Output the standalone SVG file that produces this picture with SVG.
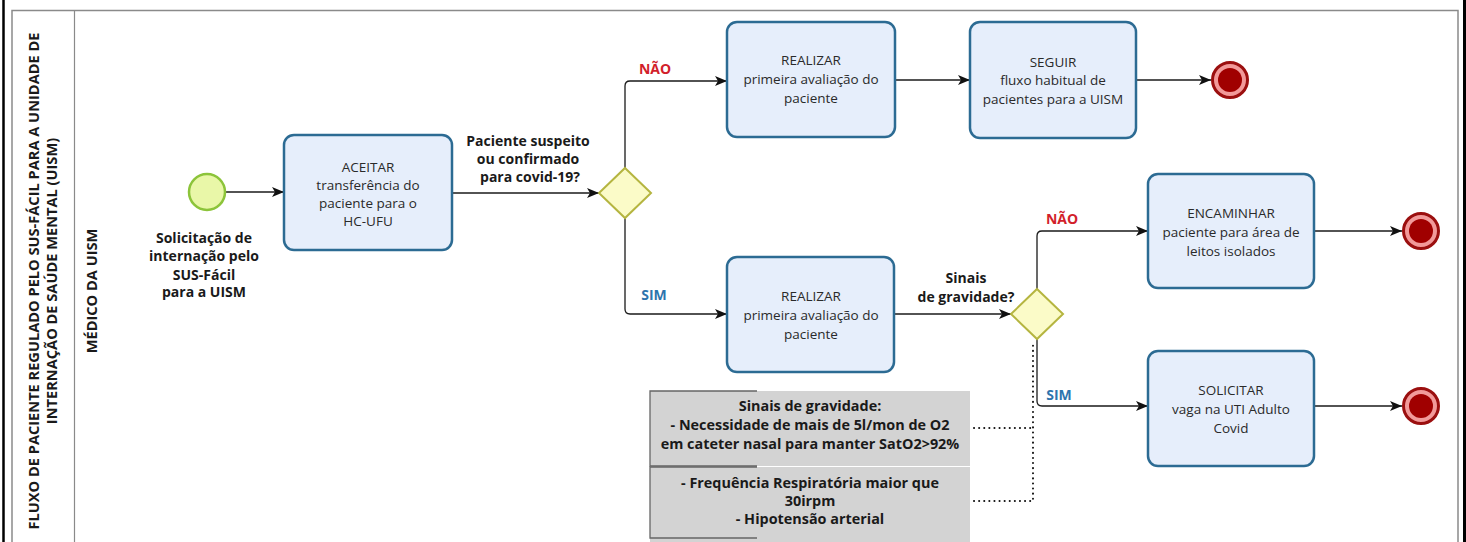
<svg xmlns="http://www.w3.org/2000/svg" width="1466" height="542" viewBox="0 0 1466 542">
<defs>
<marker id="arr" viewBox="0 0 12 10" refX="12" refY="5" markerWidth="12" markerHeight="10" markerUnits="userSpaceOnUse" orient="auto">
<path d="M0,0 L12,5 L0,10 L3,5 Z" fill="#111"/>
</marker>
<style>
.task{fill:#e6eefb;stroke:#2c6b93;stroke-width:2.5}
.tt{font-family:"Open Sans","Noto Sans",sans-serif;font-size:13.5px;fill:#2a2a2a;text-anchor:middle}
.lb{font-family:"Open Sans","Noto Sans",sans-serif;font-size:14px;font-weight:bold;fill:#1a1a1a;text-anchor:middle}
.ttl{font-family:"Open Sans","Noto Sans",sans-serif;font-size:14.6px;font-weight:bold;fill:#1a1a1a;text-anchor:middle}
.an{font-family:"Open Sans","Noto Sans",sans-serif;font-size:14.4px;font-weight:bold;fill:#1a1a1a;text-anchor:middle}
.no{font-family:"Open Sans","Noto Sans",sans-serif;font-size:14px;font-weight:bold;fill:#d21f2b;text-anchor:middle}
.yes{font-family:"Open Sans","Noto Sans",sans-serif;font-size:14px;font-weight:bold;fill:#2e74ad;text-anchor:middle}
.flow{fill:none;stroke:#1a1a1a;stroke-width:1.3;marker-end:url(#arr)}
.assoc{fill:none;stroke:#111;stroke-width:2;stroke-dasharray:0.1 5;stroke-linecap:round}
.gw{fill:#fbfbc8;stroke:#b5b540;stroke-width:2}
.endo{fill:#f29a9a;stroke:#9b0f0f;stroke-width:3}
.endi{fill:#a00000}
</style>
</defs>
<rect width="1466" height="542" fill="#fff"/>
<g id="frame">
<line x1="3.5" y1="0" x2="3.5" y2="542" stroke="#000" stroke-width="2.5"/>
<line x1="1464.5" y1="0" x2="1464.5" y2="542" stroke="#000" stroke-width="3"/>
<rect x="12" y="10.5" width="1446" height="600" fill="none" stroke="#8a8a8a" stroke-width="1.5"/>
<line x1="74.5" y1="10" x2="74.5" y2="542" stroke="#8a8a8a" stroke-width="1.2"/>
</g>
<g id="pool-label">
<text class="ttl" transform="translate(39,281) rotate(-90)">FLUXO DE PACIENTE REGULADO PELO SUS-FÁCIL PARA A UNIDADE DE</text>
<text class="ttl" transform="translate(57,281) rotate(-90)">INTERNAÇÃO DE SAÚDE MENTAL (UISM)</text>
</g>
<g id="lane-label">
<text class="ttl" transform="translate(97,291) rotate(-90)">MÉDICO DA UISM</text>
</g>
<g id="connectors">
<path class="flow" d="M225,192 L284,192"/>
<path class="flow" d="M452,193 L599,193"/>
<path class="flow" d="M625,168 L625,86 Q625,81 630,81 L727,81"/>
<path class="flow" d="M625,218 L625,309 Q625,314 630,314 L727,314"/>
<path class="flow" d="M895,80 L970,80"/>
<path class="flow" d="M1136,80 L1211,80"/>
<path class="flow" d="M894,314 L1011,314"/>
<path class="flow" d="M1037,289 L1037,236 Q1037,231 1042,231 L1148,231"/>
<path class="flow" d="M1037,339 L1037,401 Q1037,406 1042,406 L1148,406"/>
<path class="flow" d="M1314,231 L1402,231"/>
<path class="flow" d="M1314,406 L1402,406"/>
<path class="assoc" d="M974,428 L1033,428"/>
<path class="assoc" d="M974,501 L1033,501 L1033,342"/>
<text class="lb" x="528" y="146">Paciente suspeito</text>
<text class="lb" x="528" y="164">ou confirmado</text>
<text class="lb" x="530" y="182">para covid-19?</text>
<text class="no" x="655" y="74">NÃO</text>
<text class="yes" x="654" y="300">SIM</text>
<text class="lb" x="966" y="283">Sinais</text>
<text class="lb" x="966" y="302">de gravidade?</text>
<text class="no" x="1062" y="224">NÃO</text>
<text class="yes" x="1059" y="400">SIM</text>
</g>
<g id="start">
<circle cx="207" cy="192" r="18" fill="#e9f7a8" stroke="#8cc43a" stroke-width="2.5"/>
<text class="lb" x="204" y="243">Solicitação de</text>
<text class="lb" x="204" y="261">internação pelo</text>
<text class="lb" x="204" y="280">SUS-Fácil</text>
<text class="lb" x="204" y="297">para a UISM</text>
</g>
<g id="task-aceitar">
<rect class="task" x="284" y="135" width="168" height="115" rx="10"/>
<text class="tt" x="368" y="172">ACEITAR</text>
<text class="tt" x="368" y="190">transferência do</text>
<text class="tt" x="368" y="208">paciente para o</text>
<text class="tt" x="368" y="226">HC-UFU</text>
</g>
<g id="gateway-covid">
<path class="gw" d="M625,168 L651,193 L625,218 L599,193 Z"/>
</g>
<g id="task-realizar-1">
<rect class="task" x="727" y="22" width="168" height="115" rx="10"/>
<text class="tt" x="811" y="65">REALIZAR</text>
<text class="tt" x="811" y="84">primeira avaliação do</text>
<text class="tt" x="811" y="103">paciente</text>
</g>
<g id="task-seguir">
<rect class="task" x="970" y="22" width="166" height="116" rx="10"/>
<text class="tt" x="1053" y="67">SEGUIR</text>
<text class="tt" x="1053" y="85">fluxo habitual de</text>
<text class="tt" x="1053" y="104">pacientes para a UISM</text>
</g>
<g id="end-1">
<circle class="endo" cx="1230" cy="80" r="17.5"/>
<circle class="endi" cx="1230" cy="80" r="12"/>
</g>
<g id="task-realizar-2">
<rect class="task" x="727" y="257" width="167" height="115" rx="10"/>
<text class="tt" x="811" y="301">REALIZAR</text>
<text class="tt" x="811" y="320">primeira avaliação do</text>
<text class="tt" x="811" y="339">paciente</text>
</g>
<g id="gateway-gravidade">
<path class="gw" d="M1037,289 L1063,314 L1037,339 L1011,314 Z"/>
</g>
<g id="task-encaminhar">
<rect class="task" x="1148" y="174" width="166" height="114" rx="10"/>
<text class="tt" x="1231" y="218">ENCAMINHAR</text>
<text class="tt" x="1231" y="237">paciente para área de</text>
<text class="tt" x="1231" y="256">leitos isolados</text>
</g>
<g id="end-2">
<circle class="endo" cx="1421" cy="231" r="17.5"/>
<circle class="endi" cx="1421" cy="231" r="12"/>
</g>
<g id="task-solicitar">
<rect class="task" x="1148" y="351" width="166" height="115" rx="10"/>
<text class="tt" x="1231" y="395">SOLICITAR</text>
<text class="tt" x="1231" y="414">vaga na UTI Adulto</text>
<text class="tt" x="1231" y="433">Covid</text>
</g>
<g id="end-3">
<circle class="endo" cx="1421" cy="406" r="17.5"/>
<circle class="endi" cx="1421" cy="406" r="12"/>
</g>
<g id="annotation-1">
<rect x="650" y="391" width="320" height="75" fill="#d3d3d3"/>
<path d="M757,391 L650,391 L650,466 L757,466" fill="none" stroke="#666" stroke-width="1.3"/>
<text class="an" x="810" y="411">Sinais de gravidade:</text>
<text class="an" x="810" y="430">- Necessidade de mais de 5l/mon de O2</text>
<text class="an" x="810" y="449">em cateter nasal para manter SatO2&gt;92%</text>
</g>
<g id="annotation-2">
<rect x="650" y="467" width="320" height="75" fill="#d3d3d3"/>
<path d="M757,467 L650,467 L650,538 L757,538" fill="none" stroke="#666" stroke-width="1.3"/>
<text class="an" x="810" y="488">- Frequência Respiratória maior que</text>
<text class="an" x="810" y="506">30irpm</text>
<text class="an" x="810" y="524">- Hipotensão arterial</text>
</g>
</svg>
